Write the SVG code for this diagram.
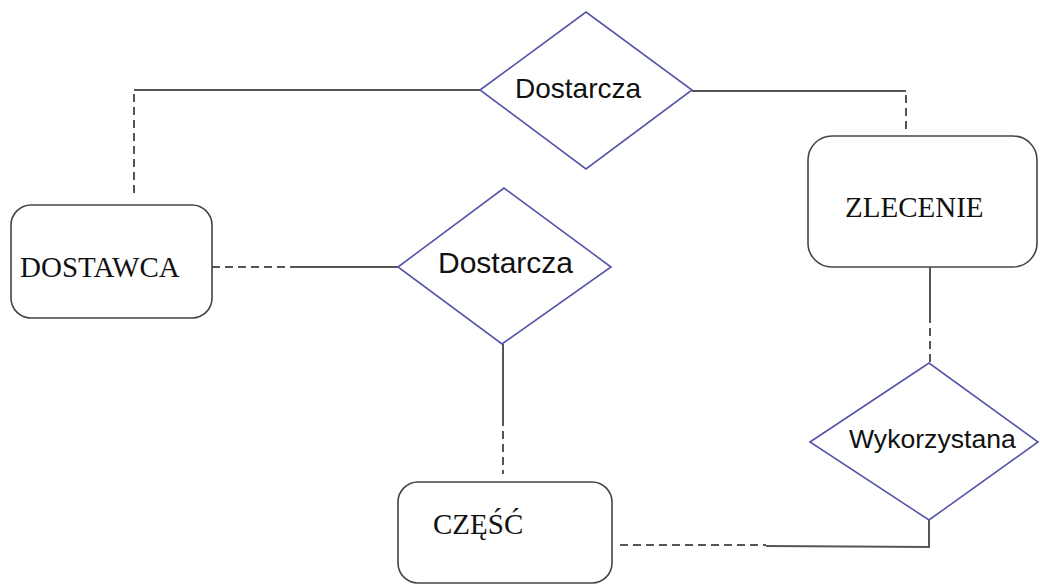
<svg xmlns="http://www.w3.org/2000/svg" width="1040" height="585" viewBox="0 0 1040 585">
<style>
.box{fill:#fff;stroke:#444;stroke-width:1.6}
.dia{fill:#fff;stroke:#5555aa;stroke-width:1.6}
.ln{fill:none;stroke:#555;stroke-width:2}
.dash{fill:none;stroke:#555;stroke-width:2;stroke-dasharray:8,5}
.serif{font-family:"Liberation Serif","Times New Roman",serif;font-size:29px;fill:#111}
.sans{font-family:"Liberation Sans",Arial,sans-serif;fill:#111}
</style>
<rect width="1040" height="585" fill="#fff"/>
<g id="connectors">
<polyline class="ln" points="480,90 134,90"/>
<line class="dash" x1="134" y1="94" x2="134" y2="198"/>
<polyline class="ln" points="692,91 906,91"/>
<line class="dash" x1="906" y1="95" x2="906" y2="134"/>
<line class="dash" x1="212" y1="267" x2="290" y2="267"/>
<line class="ln" x1="290" y1="267" x2="398" y2="267"/>
<line class="ln" x1="503" y1="344" x2="503" y2="418"/>
<line class="dash" x1="503" y1="418" x2="503" y2="474"/>
<line class="ln" x1="930" y1="267" x2="930" y2="315"/>
<line class="dash" x1="930" y1="315" x2="930" y2="363"/>
<polyline class="ln" points="929,520 929,547 766,546"/>
<line class="dash" x1="620" y1="545" x2="766" y2="545"/>
</g>
<g id="dostarcza1">
<polygon class="dia" points="480,90 586,12 692,90 586,169"/>
<text class="sans" x="515" y="98" font-size="28">Dostarcza</text>
</g>
<g id="dostarcza2">
<polygon class="dia" points="398,267 504,188 611,267 502,344"/>
<text class="sans" x="438" y="273" font-size="30">Dostarcza</text>
</g>
<g id="wykorzystana">
<polygon class="dia" points="810,442 929,363 1038,442 929,520"/>
<text class="sans" x="849" y="448" font-size="26.6">Wykorzystana</text>
</g>
<g id="dostawca">
<rect class="box" x="11" y="205" width="201" height="113" rx="20"/>
<text class="serif" x="20" y="277">DOSTAWCA</text>
</g>
<g id="zlecenie">
<rect class="box" x="808" y="136" width="229" height="131" rx="24"/>
<text class="serif" x="845" y="217">ZLECENIE</text>
</g>
<g id="czesc">
<rect class="box" x="398" y="482" width="214" height="101" rx="20"/>
<text class="serif" x="433" y="534">CZĘŚĆ</text>
</g>
</svg>
